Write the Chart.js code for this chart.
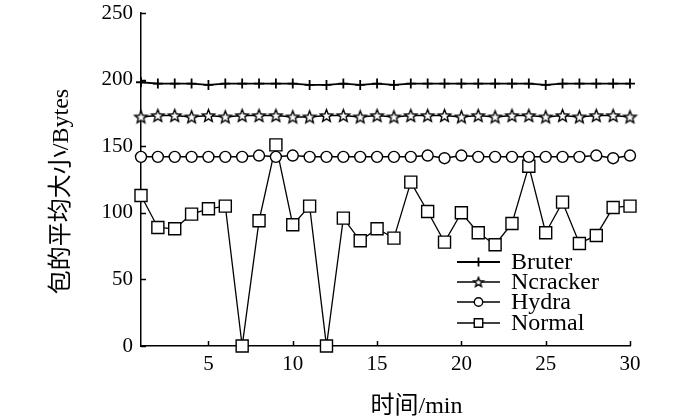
<!DOCTYPE html>
<html>
<head>
<meta charset="utf-8">
<script src="https://cdn.jsdelivr.net/npm/chart.js@4.4.1/dist/chart.umd.min.js"></script>
<style>
html,body{margin:0;padding:0;background:#fff;}
#wrap{width:700px;height:420px;position:relative;}
</style>
</head>
<body>
<div id="wrap"><canvas id="c" width="700" height="420"></canvas></div>
<script>
// ---- data ----
const minutes = [1,2,3,4,5,6,7,8,9,10,11,12,13,14,15,16,17,18,19,20,21,22,23,24,25,26,27,28,29,30];
const bruter   = [198,197,197,197,196,197,197,197,197,197,196,196,197,196,197,196,197,197,197,197,197,197,197,197,196,197,197,197,197,197];
const ncracker = [172,173,173,172,173,172,173,173,173,172,172,173,173,172,173,172,173,173,173,172,173,172,173,173,172,173,172,173,173,172];
const hydra    = [142,142,142,142,142,142,142,143,142,143,142,142,142,142,142,142,142,143,141,143,142,142,142,142,142,142,142,143,141,143];
const normal   = [113,89,88,99,103,105,0,94,151,91,105,0,96,79,88,81,123,101,78,100,85,76,92,135,85,108,77,83,104,105];
const seriesNames = ['Bruter','Ncracker','Hydra','Normal'];
const yTicks = [0,50,100,150,200,250];
const xTicks = [5,10,15,20,25,30];
const xTitle = '时间/min';
const yTitle = '包的平均大小/Bytes';

const FONT = '"Liberation Serif", "Times New Roman", "Noto Sans CJK SC", serif';

function makeStar(R, r){
  const s = Math.ceil(R*2 + 4);
  const c = document.createElement('canvas');
  c.width = s; c.height = s;
  const g = c.getContext('2d');
  g.beginPath();
  for (let i = 0; i < 10; i++) {
    const rr = (i % 2 === 0) ? R : r;
    const a = -Math.PI/2 + i*Math.PI/5;
    const px = s/2 + rr*Math.cos(a), py = s/2 + 0.5 + rr*Math.sin(a);
    if (i === 0) g.moveTo(px, py); else g.lineTo(px, py);
  }
  g.closePath();
  g.fillStyle = '#fff'; g.fill();
  g.lineWidth = 1.4; g.strokeStyle = '#000'; g.stroke();
  return c;
}
const starImg = makeStar(6.5, 2.8);
const starSmall = makeStar(5, 2.2);

const styles = [
  {pointStyle:'cross', radius:5, borderWidth:1.8, pointBorderWidth:1.8, legendRadius:4.5, legendStyle:'cross'},
  {pointStyle:starImg, radius:6, borderWidth:1.5, pointBorderWidth:1.4, legendRadius:5, legendStyle:starSmall},
  {pointStyle:'circle', radius:5.5, borderWidth:1.5, pointBorderWidth:1.4, legendRadius:4.2, legendStyle:'circle'},
  {pointStyle:'rect', radius:8.5, borderWidth:1.3, pointBorderWidth:1.4, legendRadius:6, legendStyle:'rect'}
];
const values = [bruter, ncracker, hydra, normal];

const datasets = values.map((v, i) => ({
  label: seriesNames[i],
  data: v.map((y, k) => ({x: minutes[k], y: y})),
  borderColor: '#000',
  backgroundColor: '#fff',
  pointBackgroundColor: '#fff',
  pointBorderColor: '#000',
  borderWidth: styles[i].borderWidth,
  pointBorderWidth: styles[i].pointBorderWidth,
  pointStyle: styles[i].pointStyle,
  pointRadius: styles[i].radius,
  tension: 0,
  clip: false
}));

const decor = {
  id: 'decor',
  afterDraw(chart) {
    const ctx = chart.ctx;
    const a = chart.chartArea;
    const xs = chart.scales.x, ys = chart.scales.y;
    ctx.save();
    ctx.strokeStyle = '#000';
    ctx.lineWidth = 1.5;
    // inward ticks
    yTicks.forEach(v => {
      const p = Math.round(ys.getPixelForValue(v)) + 0.5;
      ctx.beginPath(); ctx.moveTo(a.left, p); ctx.lineTo(a.left + 5, p); ctx.stroke();
    });
    xTicks.forEach(v => {
      const p = Math.round(xs.getPixelForValue(v)) + 0.5;
      ctx.beginPath(); ctx.moveTo(p, a.bottom); ctx.lineTo(p, a.bottom - 5); ctx.stroke();
    });
    // axis titles
    ctx.fillStyle = '#000';
    ctx.font = '24px ' + FONT;
    ctx.textAlign = 'center';
    ctx.textBaseline = 'middle';
    ctx.fillText(xTitle, a.left + (a.right - a.left)/2 + 31, 407);
    ctx.save();
    ctx.translate(62, a.top + (a.bottom - a.top)/2 + 12);
    ctx.rotate(-Math.PI/2);
    ctx.fillText(yTitle, 0, 0);
    ctx.restore();
    // legend
    const lx0 = a.right - 173, lx1 = a.right - 130, tx = a.right - 119;
    const rows = [262, 282, 302, 323];
    ctx.font = '24px ' + FONT;
    ctx.textAlign = 'left';
    seriesNames.forEach((name, i) => {
      const y = rows[i];
      ctx.strokeStyle = '#000';
      ctx.lineWidth = styles[i].borderWidth;
      ctx.beginPath(); ctx.moveTo(lx0, y); ctx.lineTo(lx1, y); ctx.stroke();
      const cx = (lx0 + lx1)/2;
      ctx.lineWidth = styles[i].pointBorderWidth;
      ctx.fillStyle = '#fff';
      Chart.helpers.drawPoint(ctx, {pointStyle: styles[i].legendStyle, radius: styles[i].legendRadius, rotation: 0, borderWidth: styles[i].pointBorderWidth}, cx, y);
      ctx.fillStyle = '#000';
      ctx.fillText(name, tx, y + 1);
    });
    ctx.restore();
  }
};

new Chart(document.getElementById('c'), {
  type: 'line',
  data: { datasets },
  options: {
    responsive: false,
    animation: false,
    devicePixelRatio: 1,
    layout: { padding: { left: 0, top: 13, right: 70, bottom: 0 } },
    plugins: { legend: { display: false }, tooltip: { enabled: false } },
    scales: {
      x: {
        type: 'linear', min: 1, max: 30,
        afterFit(s) { s.height = 74; s.paddingLeft = 0; s.paddingRight = 0; },
        afterBuildTicks(s) { s.ticks = xTicks.map(v => ({value: v})); },
        grid: { display: true, drawOnChartArea: false, drawTicks: false },
        border: { display: true, color: '#000', width: 1.5 },
        ticks: { color: '#000', font: { family: FONT, size: 21 }, padding: 6, maxRotation: 0, autoSkip: false }
      },
      y: {
        type: 'linear', min: 0, max: 250,
        afterFit(s) { s.width = 141; s.paddingTop = 0; s.paddingBottom = 0; },
        afterBuildTicks(s) { s.ticks = yTicks.map(v => ({value: v})); },
        grid: { display: true, drawOnChartArea: false, drawTicks: false },
        border: { display: true, color: '#000', width: 1.5 },
        ticks: { color: '#000', font: { family: FONT, size: 21, lineHeight: 0.6 }, padding: 8 }
      }
    }
  },
  plugins: [decor]
});
</script>
</body>
</html>
